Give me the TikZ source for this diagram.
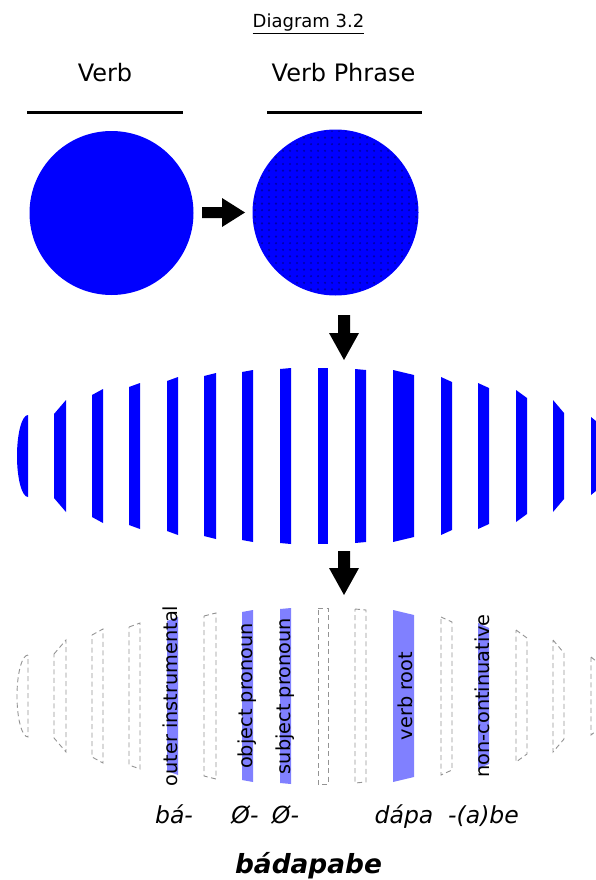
\documentclass[tikz,border=0pt]{standalone}
\usepackage{fontspec}
\setmainfont{DejaVu Sans}
\usepackage{xcolor}
\usepackage{tikz}

\definecolor{stripeblue}{RGB}{0,0,255}
\definecolor{slotblue}{RGB}{128,128,255}
\definecolor{dotblue}{RGB}{0,0,170}

\tikzset{
  heading/.style={font=\fontsize{24}{29}\selectfont, anchor=base, inner sep=0pt},
  morph/.style={font=\fontsize{23.5}{28}\selectfont\itshape, anchor=base, inner sep=0pt},
  slotlabel/.style={font=\fontsize{19.3}{23}\selectfont, rotate=90, anchor=base, inner sep=0pt},
  slotdash/.style={draw=gray!85, line width=0.9pt, dash pattern=on 5pt off 3.5pt},
}

\begin{document}
\begin{tikzpicture}[x=1pt,y=-1pt]
            \useasboundingbox (0,0) rectangle (595,880);

            % title
            \node[font=\fontsize{18}{22}\selectfont, anchor=base, inner sep=0pt] (title) at (308.5,28) {\underline{Diagram 3.2}};

            % headings with rules
            \node[heading] (verblabel) at (105,82) {Verb};
            \node[heading] (phraselabel) at (343.5,82) {Verb Phrase};
            \draw[line width=3pt] (27,113) -- (183,113);
            \draw[line width=3pt] (267,113) -- (422,113);

            % the two circles
            \node[circle, fill=stripeblue, minimum size=164pt, inner sep=0pt] (verb) at (111.5,213) {};
            \node[circle, fill=stripeblue, minimum size=166pt, inner sep=0pt] (phrase) at (335.5,212.5) {};
            \begin{scope}
              \clip (335.5,212.5) circle [radius=82];
              \foreach \px in {255,262,...,420} {
                \foreach \py in {131,137.6,...,300} {
                  \fill[dotblue] (\px,\py) circle [radius=1.2];
                }
              }
            \end{scope}

            % block arrows
            \fill (202,207) -- (222,207) -- (222,198) -- (245,212.5) -- (222,227) -- (222,218) -- (202,218) -- cycle;
            \fill (338,315) -- (350,315) -- (350,333) -- (359,333) -- (344,360) -- (329,333) -- (338,333) -- cycle;
            \fill (338,551) -- (350,551) -- (350,568) -- (359,568) -- (344,595) -- (329,568) -- (338,568) -- cycle;

            % striped oval
            \begin{scope}[shift={(0,456)}]
              \fill[stripeblue] (28,-41) .. controls (21.9,-41) and (17,-22.6) .. (17,0) .. controls (17,22.6) and (21.9,41) .. (28,41) -- cycle;
              \foreach \x/\w/\hl/\hr in {54/12/42/56, 92/11/61/67, 129/11/69/73, 167/11/75/79, 204/12/80/83, 242/11/84/86, 280/11/87/88, 318/10/88/88, 355/11/87/86, 393/21/86/81, 441/11/79/74, 478/11/73/68, 516/11/66/58, 553/11/56/43, 591/11/39/30} {
                \fill[stripeblue] (\x,-\hl) -- (\x+\w,-\hr) -- (\x+\w,\hr) -- (\x,\hl) -- cycle;
              }
            \end{scope}

            % slots: empty ones dashed, used ones filled
            \begin{scope}[shift={(0,696)}]
              \draw[slotdash] (28,-41) .. controls (21.9,-41) and (17,-22.6) .. (17,0) .. controls (17,22.6) and (21.9,41) .. (28,41) -- cycle;
              \foreach \x/\w/\hl/\hr in {54/12/42/56, 92/11/61/67, 129/11/69/73, 204/12/80/83, 318/10/88/88, 355/11/87/86, 441/11/79/74, 516/11/66/58, 553/11/56/43, 591/11/39/30} {
                \draw[slotdash] (\x,-\hl) -- (\x+\w,-\hr) -- (\x+\w,\hr) -- (\x,\hl) -- cycle;
              }
              \foreach \x/\w/\hl/\hr in {167/11/75/79, 242/11/84/86, 280/11/87/88, 393/21/86/81, 478/11/73/68} {
                \fill[slotblue] (\x,-\hl) -- (\x+\w,-\hr) -- (\x+\w,\hr) -- (\x,\hl) -- cycle;
              }
            \end{scope}

            % slot labels
            \node[slotlabel] (instr) at (177.5,696) {outer instrumental};
            \node[slotlabel] (objpro) at (252,696) {object pronoun};
            \node[slotlabel] (subjpro) at (290,696) {subject pronoun};
            \node[slotlabel] (root) at (412,696) {verb root};
            \node[slotlabel] (noncont) at (489,696) {non-continuative};

            % morphemes and the whole word
            \node[morph] (ba) at (174,823) {bá-};
            \node[morph] (objzero) at (245,823) {Ø-};
            \node[morph] (subjzero) at (285.5,823) {Ø-};
            \node[morph] (dapa) at (404,823) {dápa};
            \node[morph] (abe) at (483.5,823) {-(a)be};
            \node[font=\fontsize{26.4}{32}\selectfont\bfseries\itshape, anchor=base, inner sep=0pt] (word) at (308.5,873) {bádapabe};
\end{tikzpicture}
\end{document}
